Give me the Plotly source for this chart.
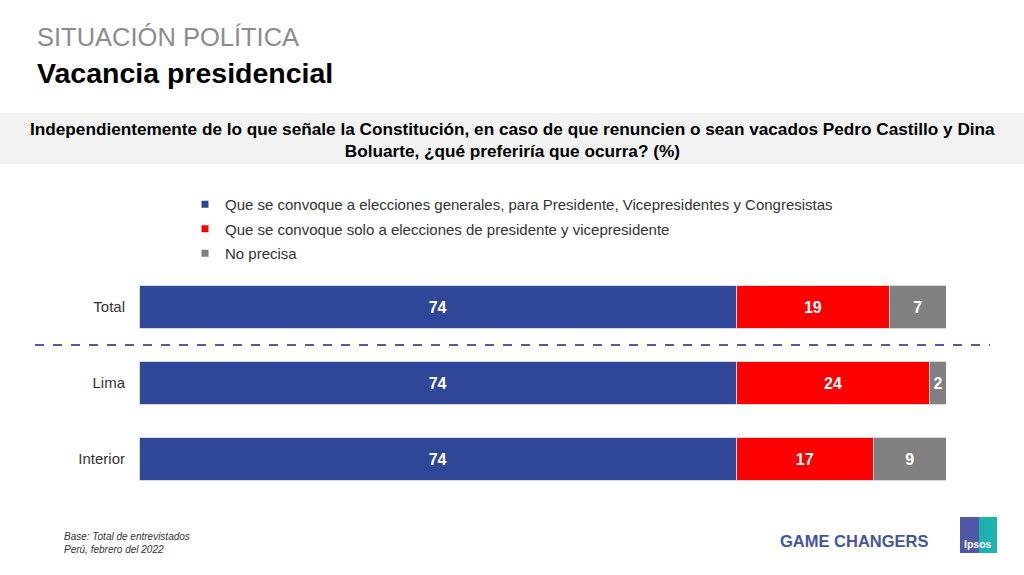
import plotly.graph_objects as go

categories = ["Total", "Lima", "Interior"]
series_names = [
    "Que se convoque a elecciones generales, para Presidente, Vicepresidentes y Congresistas",
    "Que se convoque solo a elecciones de presidente y vicepresidente",
    "No precisa",
]
generales = [74, 74, 74]
solo_pres = [19, 24, 17]
no_precisa = [7, 2, 9]
colors = ["#2F4699", "#FF0000", "#808080"]

W, H = 1024, 575
FONT = "Liberation Sans, Arial, sans-serif"

fig = go.Figure()
for name, vals, col in zip(series_names, [generales, solo_pres, no_precisa], colors):
    fig.add_trace(go.Bar(
        y=categories, x=vals, orientation="h", name=name,
        marker=dict(color=col, line=dict(color="#D9D9D9", width=1)),
        width=0.553,
        text=vals, texttemplate="<b>%{x}</b>", textposition="inside",
        insidetextanchor="middle",
        textfont=dict(color="white", size=16, family=FONT),
        showlegend=False, hoverinfo="skip",
    ))
    fig.add_trace(go.Scatter(
        x=[None], y=[None], mode="markers", name=name,
        marker=dict(symbol="square", size=7, color=col),
        legendgroup=name, showlegend=True,
    ))

# dashed separator between Total and regions
fig.add_shape(type="line", xref="paper", yref="y", x0=35 / W, x1=990 / W,
              y0=0.5, y1=0.5, line=dict(color="#4A5FAD", width=2, dash="dash"))

# header banner
fig.add_shape(type="rect", xref="paper", yref="paper", x0=0, x1=1,
              y0=1 - 164 / H, y1=1 - 113 / H, fillcolor="#F2F2F2",
              line=dict(width=0), layer="below")

ann = []
ann.append(dict(text="SITUACIÓN POLÍTICA", x=35 / W, y=1 - 37 / H, xanchor="left",
                yanchor="middle", font=dict(size=25.5, color="#8C8C8C", family=FONT)))
ann.append(dict(text="<b>Vacancia presidencial</b>", x=35 / W, y=1 - 73 / H, xanchor="left",
                yanchor="middle", font=dict(size=28.5, color="#000000", family=FONT)))
ann.append(dict(text="<b>Independientemente de lo que señale la Constitución, en caso de que renuncien o sean vacados Pedro Castillo y Dina<br>Boluarte, ¿qué preferiría que ocurra? (%)</b>",
                x=0.5, y=1 - 140 / H, xanchor="center", yanchor="middle", align="center",
                font=dict(size=17.2, color="#000000", family=FONT)))
ann.append(dict(text="<i>Base: Total de entrevistados<br>Perú, febrero del 2022</i>",
                x=62 / W, y=1 - 543 / H, xanchor="left", yanchor="middle", align="left",
                font=dict(size=10, color="#333333", family=FONT)))
ann.append(dict(text="<b>GAME CHANGERS</b>", x=931 / W, y=1 - 541 / H, xanchor="right",
                yanchor="middle", font=dict(size=16.5, color="#4454A4", family=FONT)))
ann.append(dict(text="<b>Ipsos</b>", x=978 / W, y=1 - 544 / H, xanchor="center",
                yanchor="middle", font=dict(size=10.5, color="white", family=FONT)))
for a in ann:
    a.update(xref="paper", yref="paper", showarrow=False)

# Ipsos logo blocks
fig.add_shape(type="rect", xref="paper", yref="paper", x0=960 / W, x1=979 / W,
              y0=1 - 553 / H, y1=1 - 517 / H, fillcolor="#5059A8", line=dict(width=0))
fig.add_shape(type="rect", xref="paper", yref="paper", x0=979 / W, x1=997 / W,
              y0=1 - 553 / H, y1=1 - 517 / H, fillcolor="#1EB1AE", line=dict(width=0))

fig.update_layout(
    width=W, height=H, margin=dict(l=0, r=0, t=0, b=0),
    paper_bgcolor="white", plot_bgcolor="white",
    barmode="stack", bargap=0.447,
    font=dict(family=FONT, size=15, color="#333333"),
    annotations=ann,
    uniformtext=dict(minsize=16, mode="show"),
    legend=dict(x=185 / W, y=1 - 188 / H, xanchor="left", yanchor="top",
                font=dict(size=15, color="#333333", family=FONT),
                tracegroupgap=2, itemwidth=30, bgcolor="rgba(0,0,0,0)"),
    xaxis=dict(domain=[139 / W, 946 / W], range=[0, 100], visible=False, fixedrange=True),
    yaxis=dict(domain=[1 - 497 / H, 1 - 269 / H], range=[2.5, -0.5], showgrid=False,
               zeroline=False, showline=False, ticks="", ticklabelstandoff=13,
               fixedrange=True, tickfont=dict(size=15, color="#333333", family=FONT)),
)

fig.write_html("out.html", config={"displayModeBar": False},
               post_script="document.body.style.margin='0';document.body.style.overflow='hidden';")
